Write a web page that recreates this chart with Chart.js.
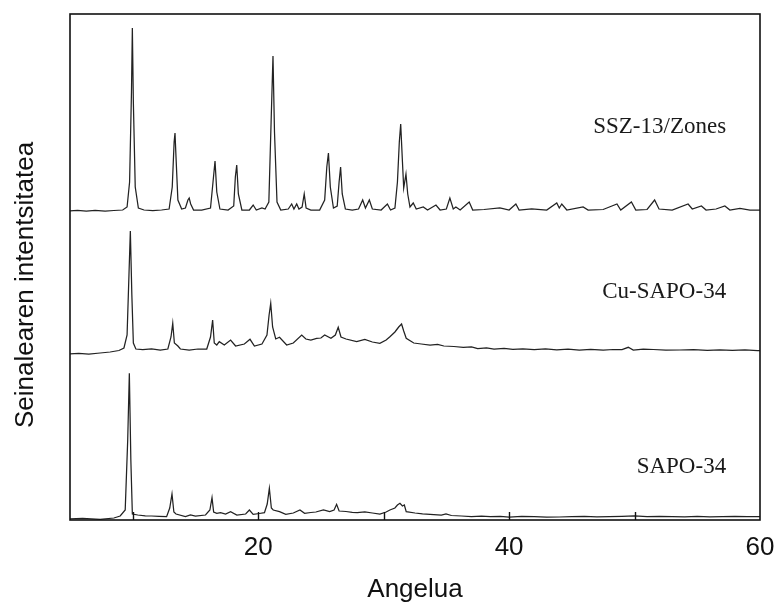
<!DOCTYPE html>
<html>
<head>
<meta charset="utf-8">
<script src="https://cdn.jsdelivr.net/npm/chart.js@4/dist/chart.umd.min.js"></script>
<style>
  body { margin: 0; background: #fff; }
  canvas { display: block; }
</style>
</head>
<body>
<canvas id="xrd" width="778" height="604"></canvas>
<script>
// 2-theta (deg) and intensity (a.u.) for each sample
const sapoAngle = [5.0, 6.0, 7.4, 8.5, 9.0, 9.4, 9.6, 9.73, 9.85, 9.97, 10.4, 11.0, 11.5, 12.1, 12.7, 12.95, 13.13, 13.28, 13.45, 14.2, 14.6, 15.0, 15.8, 16.15, 16.32, 16.45, 16.7, 17.0, 17.4, 17.8, 18.3, 19.0, 19.3, 19.6, 20.1, 20.5, 20.72, 20.89, 21.05, 21.2, 21.7, 22.2, 22.8, 23.33, 23.7, 24.2, 24.6, 25.2, 25.7, 26.05, 26.25, 26.45, 27.0, 27.5, 27.9, 28.5, 29.1, 29.7, 30.2, 30.5, 30.9, 31.1, 31.3, 31.5, 31.65, 31.8, 32.5, 33.1, 33.7, 34.6, 34.97, 35.4, 36.2, 37.0, 37.8, 38.5, 39.3, 40.0, 41.0, 42.0, 43.0, 44.0, 45.0, 46.0, 47.0, 48.0, 49.0, 50.0, 51.0, 52.0, 53.0, 54.0, 55.0, 56.0, 57.0, 58.0, 59.0, 60.0];
const sapoInt   = [1.0, 1.5, 0.7, 2.0, 4.0, 10, 80, 146.7, 60, 6, 5, 4.2, 4, 3.6, 3.3, 12, 26, 8, 6, 3.3, 5, 3.8, 5, 10, 22.3, 8, 6.7, 7.3, 6, 8.3, 5, 6, 10, 5.7, 6.5, 7.3, 16, 31.7, 12, 10, 8.3, 5.7, 7, 10, 6.7, 7.5, 8, 10, 8.3, 10, 15.7, 9, 8.5, 7.6, 7.3, 8, 7, 6, 8, 10, 12, 15, 16.7, 14, 15, 8.3, 7, 6.2, 5.7, 5, 6, 4.5, 4, 3.5, 3.8, 3.3, 3.6, 3, 3.5, 3.3, 2.9, 3, 3.4, 3.5, 3.1, 3.3, 3.6, 4, 3.3, 3.6, 3.3, 3.1, 3.5, 3.2, 3.3, 3.6, 3.5, 3.3];

const cuAngle = [5.0, 5.7, 6.5, 7.4, 8.2, 8.9, 9.3, 9.55, 9.7, 9.81, 9.93, 10.05, 10.25, 10.8, 11.5, 12.2, 12.8, 13.05, 13.19, 13.32, 13.6, 13.8, 14.5, 15.2, 15.9, 16.2, 16.37, 16.5, 16.7, 16.9, 17.3, 17.8, 18.2, 18.9, 19.35, 19.7, 20.3, 20.7, 20.87, 21.0, 21.15, 21.4, 21.7, 22.27, 22.8, 23.47, 23.8, 24.2, 24.66, 25.0, 25.3, 25.8, 26.15, 26.38, 26.6, 27.0, 27.85, 28.5, 29.1, 29.7, 30.2, 30.5, 30.9, 31.2, 31.43, 31.6, 31.8, 32.4, 33.0, 33.7, 34.3, 34.8, 35.6, 36.35, 37.0, 37.5, 38.2, 38.8, 39.6, 40.3, 41.1, 42.0, 42.9, 43.8, 44.7, 45.6, 46.5, 47.5, 48.3, 49.0, 49.5, 49.9, 50.7, 51.5, 52.5, 53.6, 54.7, 55.8, 56.8, 57.8, 58.8, 59.8, 60.0];
const cuInt   = [1, 1.5, 1, 2, 3, 4.5, 7, 20, 80, 124, 60, 12, 6, 5.5, 6, 5, 6, 18, 31.7, 12, 9, 6, 5, 6, 6, 18, 35, 12, 10, 13.3, 10, 15, 9, 11, 15.7, 9, 11, 20, 40, 51.7, 28, 16, 17.7, 10, 12, 20, 16, 15, 16.7, 17, 20, 16.7, 20, 27.7, 18, 16, 13.3, 15.7, 13, 11.7, 15, 18.3, 23, 28, 31, 24, 16.7, 12, 11, 10, 10.5, 9, 8.5, 7.7, 8.2, 6.5, 7, 6, 6.6, 5.7, 6.2, 5.5, 6, 5.2, 5.8, 5, 5.6, 5, 5.5, 5.5, 7.7, 5, 5.8, 5.5, 4.8, 5, 5.4, 4.7, 5.2, 4.7, 5, 4.3, 4.5];

const sszAngle = [5.0, 5.6, 6.3, 7.0, 7.8, 8.5, 9.2, 9.55, 9.75, 9.9, 9.97, 10.05, 10.2, 10.45, 10.9, 11.6, 12.3, 12.9, 13.15, 13.3, 13.37, 13.45, 13.6, 13.9, 14.2, 14.4, 14.5, 14.62, 14.85, 15.5, 16.2, 16.4, 16.56, 16.7, 16.95, 17.6, 18.05, 18.18, 18.29, 18.42, 18.7, 19.3, 19.6, 19.85, 20.3, 20.55, 20.85, 21.03, 21.18, 21.3, 21.5, 21.8, 22.4, 22.67, 22.85, 23.07, 23.25, 23.5, 23.67, 23.82, 24.2, 24.9, 25.3, 25.47, 25.6, 25.75, 26.0, 26.3, 26.45, 26.57, 26.7, 26.95, 27.5, 28.0, 28.33, 28.55, 28.86, 29.1, 29.8, 30.3, 30.55, 30.9, 31.1, 31.25, 31.36, 31.5, 31.6, 31.78, 31.92, 32.1, 32.36, 32.6, 33.16, 33.5, 34.17, 34.5, 35.0, 35.28, 35.55, 35.76, 36.1, 36.82, 37.1, 38.0, 39.27, 40.0, 40.54, 40.8, 41.8, 43.0, 43.8, 44.0, 44.2, 44.6, 45.9, 46.3, 47.5, 48.6, 48.9, 49.75, 50.1, 51.0, 51.6, 51.95, 53.0, 54.27, 54.6, 55.33, 55.7, 56.5, 57.2, 57.6, 58.4, 59.2, 60.0];
const sszInt   = [1, 1.5, 1, 1.5, 1, 1.5, 2, 5, 30, 120, 184, 110, 25, 4, 2, 1.5, 2, 3, 25, 70, 79, 55, 12, 3, 4, 12, 14, 8, 2, 2, 4, 30, 51, 20, 3, 2, 6, 35, 47, 18, 2, 2, 7, 2, 4, 3, 10, 90, 156, 80, 10, 2, 3, 8, 3, 8, 3, 5, 18, 4, 2, 2, 12, 45, 59, 25, 4, 6, 30, 45, 18, 3, 2, 3, 12, 4, 12, 3, 2, 8, 2, 4, 30, 70, 88, 50, 24, 38, 18, 5, 9, 3, 5, 2, 7, 2, 3, 14, 3, 5, 2, 10, 2, 2.5, 4, 2, 8, 2, 3, 2, 9, 4, 8, 2, 5, 2, 2.5, 8, 2, 10, 2, 2.5, 12, 3, 2, 8, 3, 6, 2, 3, 6, 2, 3.5, 2, 2];

const sampleNames = ['SAPO-34', 'Cu-SAPO-34', 'SSZ-13/Zones'];
const stackOffset = [0, 165, 308];          // vertical shift of each pattern
const nameAngle   = [57.3, 57.3, 57.3];     // right edge of each sample name
const nameLevel   = [47, 222, 387];         // baseline of each sample name

const tickValues = [10, 20, 30, 40, 50, 60];
const tickLabels = ['', '20', '', '40', '', '60'];

const patterns = [[sapoAngle, sapoInt], [cuAngle, cuInt], [sszAngle, sszInt]];

const sans = '"Liberation Sans", Arial, sans-serif';
const serif = '"Liberation Serif", "Times New Roman", serif';

// frame, inward ticks, axis titles and sample names
const decorations = {
    id: 'decorations',
    afterDraw(chart) {
        const ctx = chart.ctx
        const a = chart.chartArea
        const x = chart.scales.x
        const y = chart.scales.y
        ctx.save()
        ctx.strokeStyle = '#111'
        ctx.lineWidth = 1.6
        ctx.strokeRect(a.left, a.top, a.right - a.left, a.bottom - a.top)

        ctx.lineWidth = 1.4
        tickValues.slice(0, -1).forEach(v => {
            const px = Math.round(x.getPixelForValue(v)) + 0.5
            ctx.beginPath()
            ctx.moveTo(px, a.bottom)
            ctx.lineTo(px, a.bottom - 8)
            ctx.stroke()
        })

        ctx.fillStyle = '#111'
        ctx.font = '26px ' + sans
        ctx.textAlign = 'center'
        ctx.textBaseline = 'alphabetic'
        ctx.fillText('Angelua', (a.left + a.right) / 2, 597)

        ctx.save()
        ctx.translate(33, 285)
        ctx.rotate(-Math.PI / 2)
        ctx.fillText('Seinalearen intentsitatea', 0, 0)
        ctx.restore()

        ctx.font = '23px ' + serif
        ctx.textAlign = 'right'
        ctx.fillStyle = '#1a1a1a'
        sampleNames.forEach((name, i) => {
            ctx.fillText(name, x.getPixelForValue(nameAngle[i]), y.getPixelForValue(nameLevel[i]))
        })
        ctx.restore()
    }
}

new Chart(document.getElementById('xrd').getContext('2d'), {
    type: 'line',
    data: {
        datasets: patterns.map(([ang, inten], i) => ({
            label: sampleNames[i],
            data: ang.map((t, k) => ({ x: t, y: inten[k] + stackOffset[i] })),
            borderColor: '#222',
            borderWidth: 1.25,
            pointRadius: 0,
            tension: 0,
            fill: false,
        })),
    },
    options: {
        responsive: false,
        animation: false,
        parsing: false,
        layout: { padding: { left: 70, top: 14, right: 18, bottom: 0 } },
        plugins: { legend: { display: false }, tooltip: { enabled: false } },
        scales: {
            x: {
                type: 'linear',
                min: 5,
                max: 60,
                grid: { display: false, drawTicks: false },
                border: { display: false },
                afterBuildTicks: s => { s.ticks = tickValues.map(v => ({ value: v })) },
                afterFit: s => {
                    s.height = 84
                    s.paddingLeft = 0
                    s.paddingRight = 0
                },
                ticks: {
                    padding: 12,
                    color: '#111',
                    font: { family: sans, size: 26 },
                    maxRotation: 0,
                    autoSkip: false,
                    callback: v => tickLabels[tickValues.indexOf(v)],
                },
            },
            y: { display: false, min: 0, max: 506 },
        },
    },
    plugins: [decorations],
})
</script>
</body>
</html>
